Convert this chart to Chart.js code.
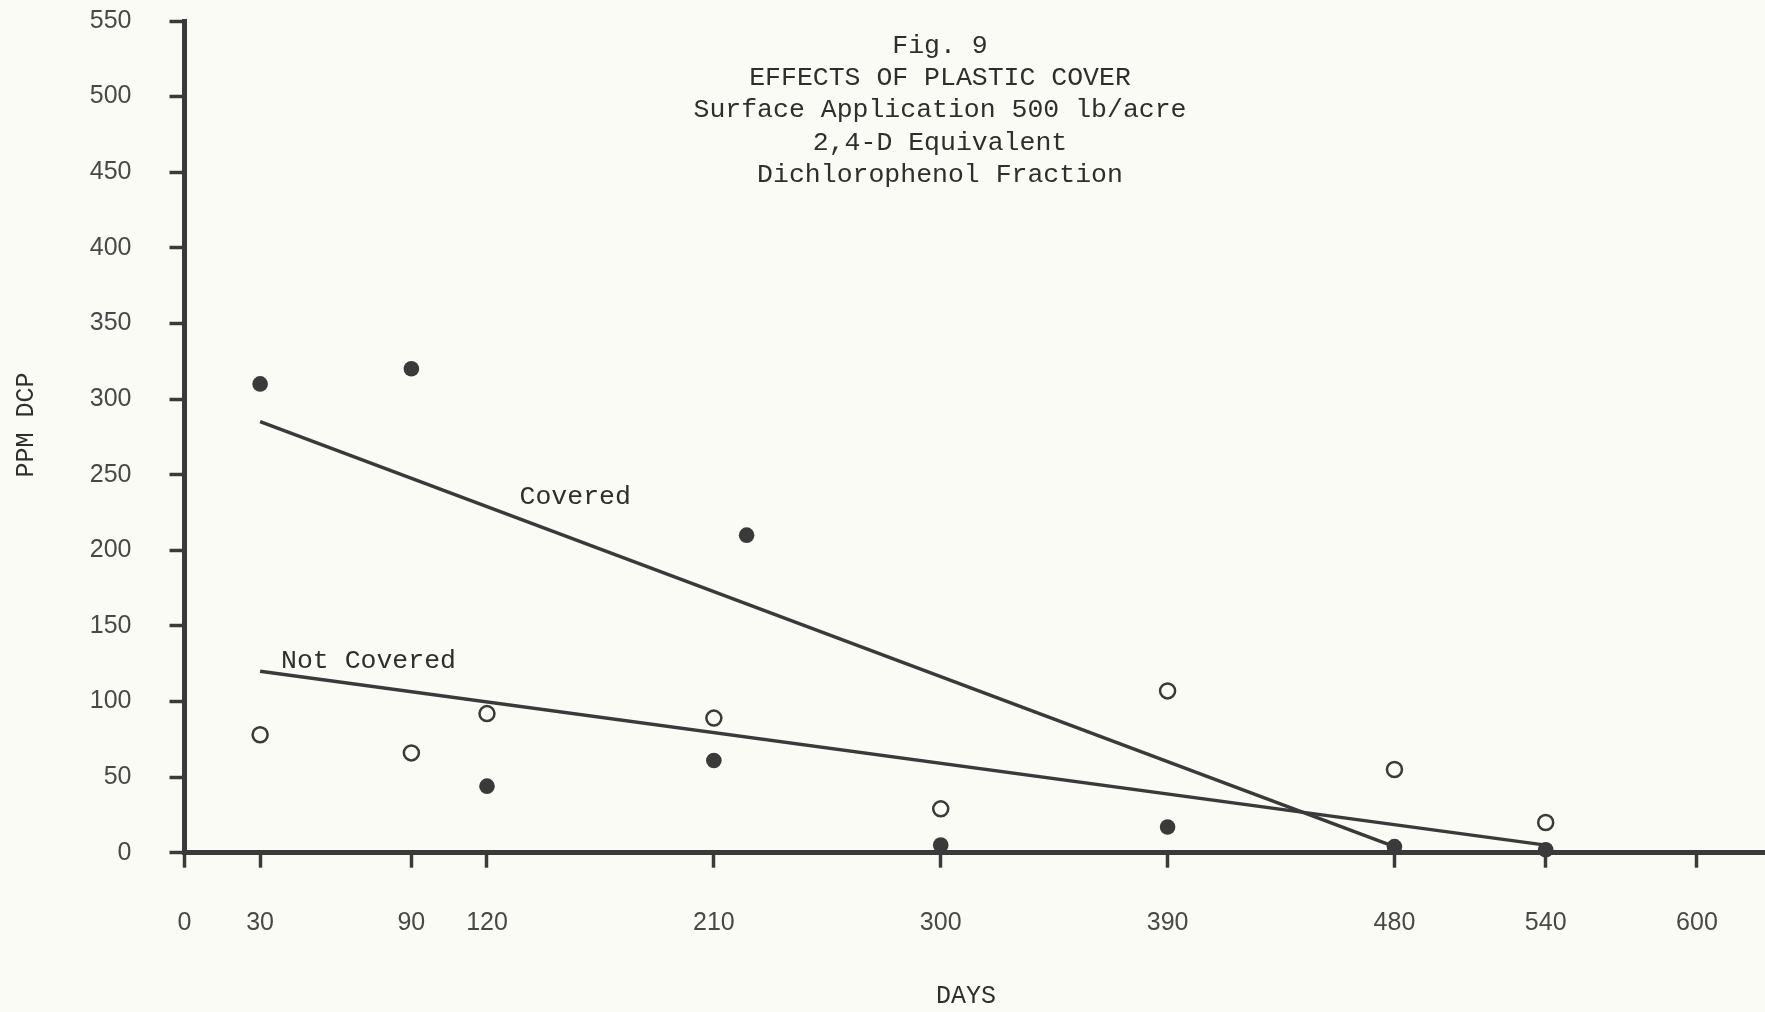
<!DOCTYPE html>
<html>
<head>
<meta charset="utf-8">
<title>Fig. 9 Effects of Plastic Cover</title>
<script src="https://cdn.jsdelivr.net/npm/chart.js@4.4.1/dist/chart.umd.min.js"></script>
<style>
  html, body { margin: 0; padding: 0; background: #fbfbf6; overflow: hidden; }
  #fig9 { display: block; }
</style>
</head>
<body>
<canvas id="fig9" width="1765" height="1012"></canvas>
<script>
// values
var day_ticks = [0, 30, 90, 120, 210, 300, 390, 480, 540, 600];

var covered_days = [30, 90, 120, 210, 223, 300, 390, 480, 540];
var covered_ppm  = [310, 320, 44, 61, 210, 5, 17, 4, 2];

var uncovered_days = [30, 90, 120, 210, 300, 390, 480, 540];
var uncovered_ppm  = [78, 66, 92, 89, 29, 107, 55, 20];

// hand-drawn trend lines (end points)
var covered_fit_days = [30, 480];
var covered_fit_ppm  = [285, 4];
var uncovered_fit_days = [30, 540];
var uncovered_fit_ppm  = [120, 5];

var title_lines = [
  'Fig. 9',
  'EFFECTS OF PLASTIC COVER',
  'Surface Application 500 lb/acre',
  '2,4-D Equivalent',
  'Dichlorophenol Fraction'
];

var line_labels = [
  { text: 'Covered', x: 155, y: 235 },
  { text: 'Not Covered', x: 73, y: 127 }
];

var ink = '#3a3a3a';
var typewriter = '"Liberation Mono", "DejaVu Sans Mono", monospace';

function to_points(xs, ys){
    let pts = [];
    xs.forEach((x, i) => pts.push({ x: x, y: ys[i] }));
    return pts;
}

// paper background + typed title, axis titles and line labels
var paperPlugin = {
    id: 'paper',
    beforeDraw(chart){
        var ctx = chart.ctx;
        ctx.save();
        ctx.fillStyle = '#fbfbf6';
        ctx.fillRect(0, 0, chart.width, chart.height);
        ctx.restore();
    },
    afterDatasetsDraw(chart){
        var ctx = chart.ctx;
        var xs = chart.scales.x;
        var ys = chart.scales.y;
        ctx.save();
        ctx.fillStyle = '#2e2e2e';
        ctx.font = '26.5px ' + typewriter;
        ctx.textAlign = 'center';
        ctx.textBaseline = 'middle';
        title_lines.forEach((line, i) => {
            ctx.fillText(line, 940, 46 + i * 32.2);
        });
        line_labels.forEach((lab) => {
            ctx.fillText(lab.text, xs.getPixelForValue(lab.x), ys.getPixelForValue(lab.y));
        });
        // axis titles
        ctx.font = '25px ' + typewriter;
        ctx.fillText('DAYS', 966, 996);
        ctx.translate(26, 425);
        ctx.rotate(-Math.PI / 2);
        ctx.fillText('PPM DCP', 0, 0);
        ctx.restore();
    }
};

function draw_chart(){
    var ctx = document.getElementById('fig9');

    new Chart(ctx, {
        type: 'scatter',
        data: {
            datasets: [
                {
                    label: 'Covered',
                    data: to_points(covered_days, covered_ppm),
                    pointRadius: 7.8,
                    pointBackgroundColor: ink,
                    pointBorderWidth: 0,
                    clip: false
                },
                {
                    label: 'Not Covered',
                    data: to_points(uncovered_days, uncovered_ppm),
                    pointRadius: 7.5,
                    pointBackgroundColor: 'rgba(0,0,0,0)',
                    pointBorderColor: ink,
                    pointBorderWidth: 2.5,
                    clip: false
                },
                {
                    type: 'line',
                    label: 'Covered trend',
                    data: to_points(covered_fit_days, covered_fit_ppm),
                    borderColor: ink,
                    borderWidth: 3.5,
                    pointRadius: 0,
                    clip: false
                },
                {
                    type: 'line',
                    label: 'Not Covered trend',
                    data: to_points(uncovered_fit_days, uncovered_fit_ppm),
                    borderColor: ink,
                    borderWidth: 3.5,
                    pointRadius: 0,
                    clip: false
                }
            ]
        },
        options: {
            responsive: false,
            animation: false,
            events: [],
            layout: {
                autoPadding: false,
                padding: { top: 21, right: 0, bottom: 0, left: 0 }
            },
            scales: {
                x: {
                    type: 'linear',
                    min: 0,
                    max: 627,
                    afterBuildTicks: (scale) => {
                        scale.ticks = day_ticks.map(v => ({ value: v }));
                    },
                    afterFit: (scale) => {
                        scale.height = 159.3;
                        scale.paddingLeft = 0;
                        scale.paddingRight = 0;
                    },
                    border: { display: true, color: ink, width: 5 },
                    grid: {
                        drawOnChartArea: false,
                        drawTicks: true,
                        tickLength: 15,
                        tickWidth: 3.5,
                        tickColor: ink
                    },
                    ticks: {
                        padding: 40,
                        color: '#484848',
                        font: { family: '"Liberation Sans", Arial, sans-serif', size: 25 },
                        maxRotation: 0,
                        autoSkip: false
                    }
                },
                y: {
                    min: 0,
                    max: 550,
                    afterFit: (scale) => {
                        scale.width = 184.5;
                        scale.paddingTop = 0;
                        scale.paddingBottom = 0;
                    },
                    border: { display: true, color: ink, width: 5 },
                    grid: {
                        drawOnChartArea: false,
                        drawTicks: true,
                        tickLength: 15,
                        tickWidth: 3.5,
                        tickColor: ink
                    },
                    ticks: {
                        stepSize: 50,
                        padding: 38,
                        color: '#484848',
                        font: { family: '"Liberation Sans", Arial, sans-serif', size: 25 }
                    }
                }
            },
            plugins: {
                legend: { display: false },
                tooltip: { enabled: false },
                title: { display: false }
            }
        },
        plugins: [paperPlugin]
    });
}

document.addEventListener('DOMContentLoaded', function() {
    draw_chart();
});
</script>
</body>
</html>
